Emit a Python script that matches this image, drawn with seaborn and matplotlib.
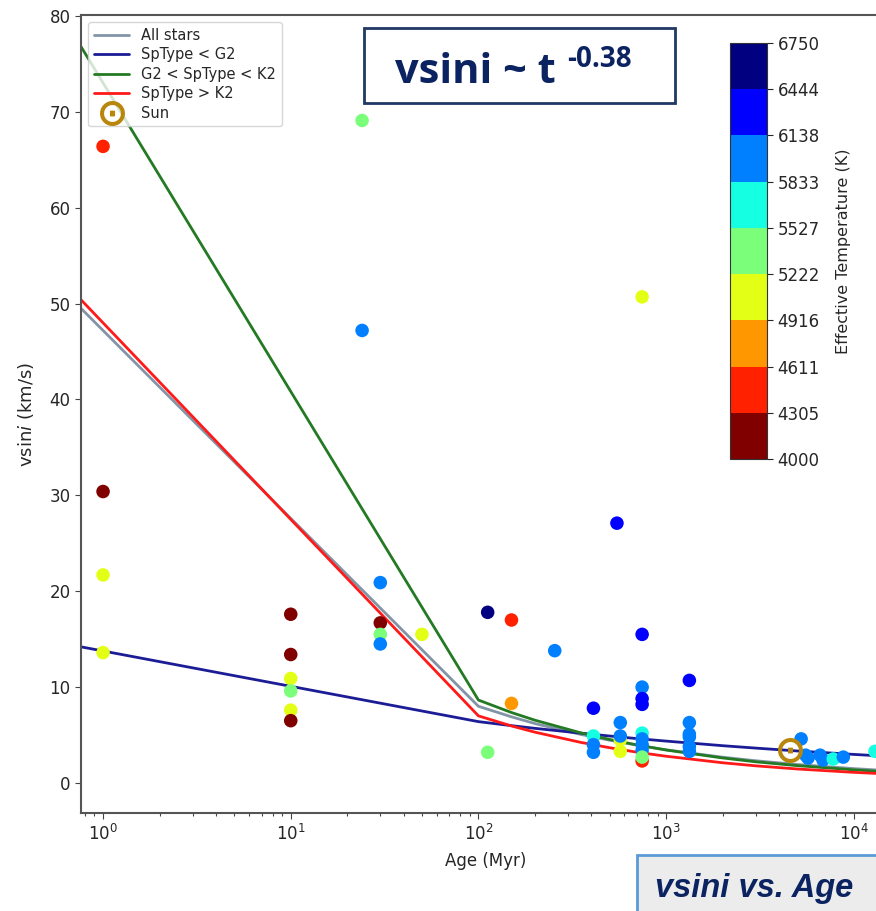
import numpy as np
import pandas as pd
import matplotlib
matplotlib.use("Agg")
import matplotlib.pyplot as plt
from matplotlib.colors import ListedColormap, Normalize
from matplotlib.patches import Rectangle
from matplotlib.ticker import LogLocator, NullFormatter
import seaborn as sns

# ---------------- data ----------------
star_age = [1, 1, 1, 1,
            10, 10, 10, 10, 10, 10,
            24, 24,
            30, 30, 30, 30,
            50,
            112, 112,
            150, 150,
            255,
            410, 410, 410, 410,
            547,
            570, 570, 570, 570,
            745, 745, 745, 745, 745, 745, 745, 745, 745, 745, 745,
            1330, 1330, 1330, 1330, 1330, 1330,
            5240, 5540, 5700, 6610, 6850, 7770, 8790, 12970]
star_vsini = [66.4, 30.4, 21.7, 13.6,
              17.6, 13.4, 10.9, 9.6, 7.6, 6.5,
              69.1, 47.2,
              20.9, 16.7, 15.5, 14.5,
              15.5,
              17.8, 3.2,
              17.0, 8.3,
              13.8,
              7.8, 4.9, 4.0, 3.2,
              27.1,
              4.5, 3.3, 4.9, 6.3,
              50.7, 15.5, 10.0, 8.8, 8.2, 5.2, 4.6, 4.0, 3.4, 2.3, 2.7,
              10.7, 6.3, 5.1, 4.8, 3.8, 3.3,
              4.6, 2.9, 2.6, 2.9, 2.4, 2.5, 2.7, 3.3]
star_teff = [4450, 4150, 5070, 5070,
             4150, 4150, 5070, 5370, 5070, 4150,
             5370, 5990,
             5990, 4150, 5370, 5990,
             5070,
             6600, 5370,
             4450, 4760,
             5990,
             6290, 5680, 5990, 5990,
             6290,
             5070, 5070, 5990, 5990,
             5070, 6290, 5990, 6290, 6290, 5680, 5990, 5990, 5990, 4450, 5370,
             6290, 5990, 5990, 5990, 5990, 5990,
             5990, 5990, 5990, 5990, 5990, 5680, 5990, 5680]

sun_age = [4570]
sun_vsini = [3.4]

fit_age = [0.763, 100, 150, 200, 350, 500, 700, 1000, 2000, 3000, 5000, 10000, 16000]
fit_all = [49.5, 8.0, 6.9, 6.2, 5.07, 4.46, 3.94, 3.46, 2.69, 2.32, 1.93, 1.50, 1.26]
fit_early = [14.2, 6.4, 5.98, 5.70, 5.20, 4.90, 4.63, 4.37, 3.89, 3.64, 3.34, 2.98, 2.76]
fit_mid = [76.8, 8.65, 7.35, 6.55, 5.24, 4.54, 3.97, 3.44, 2.61, 2.21, 1.81, 1.37, 1.13]
fit_late = [50.4, 7.0, 5.95, 5.30, 4.24, 3.68, 3.21, 2.79, 2.11, 1.79, 1.46, 1.11, 0.92]

line_labels = ["All stars", "SpType < G2", "G2 < SpType < K2", "SpType > K2"]
cbar_ticks = [4000, 4305, 4611, 4916, 5222, 5527, 5833, 6138, 6444, 6750]

# ---------------- style ----------------
sns.set_style("ticks")
plt.rcParams["font.family"] = ["DejaVu Sans"]

W, H = 876, 911
fig = plt.figure(figsize=(W / 100, H / 100), dpi=100)

def fx(px):
    return px / W

def fy(py):
    return 1 - py / H

ax = fig.add_axes([fx(81), fy(813), fx(890) - fx(81), fy(15) - fy(813)])
ax.set_xscale("log")

line_colors = ["#8294a6", "#1c1c96", "#237a23", "#ff1a1a"]
for yv, lab, col in zip([fit_all, fit_early, fit_mid, fit_late], line_labels, line_colors):
    sns.lineplot(x=fit_age, y=yv, ax=ax, color=col, lw=2, label=lab,
                 estimator=None, sort=False)

cmap = ListedColormap(plt.get_cmap("jet_r", 9)(np.arange(9)))
df = pd.DataFrame({"age": star_age, "vsini": star_vsini, "teff": star_teff})
sns.scatterplot(data=df, x="age", y="vsini", hue="teff", palette=cmap,
                hue_norm=(4000, 6750), s=95, linewidth=0, legend=False, ax=ax,
                zorder=3)

ax.plot(sun_age, sun_vsini, linestyle="none", marker=r"$\odot$", markersize=17,
        color="#b8860b", label="Sun", zorder=4)

ax.set_xlim(0.763, 10 ** ((890 - 103) / 187.7))
ax.set_ylim(-3.13, 80.1)
ax.set_yticks([0, 10, 20, 30, 40, 50, 60, 70, 80])
ax.xaxis.set_major_locator(LogLocator(base=10, numticks=10))
ax.xaxis.set_minor_locator(LogLocator(base=10, subs=np.arange(2, 10), numticks=20))
ax.xaxis.set_minor_formatter(NullFormatter())
ax.tick_params(labelsize=12, length=4, color="#444444")
ax.tick_params(axis="x", which="minor", bottom=True, length=2.5, width=0.8,
               color="#444444")
for sp in ax.spines.values():
    sp.set_color("#555555")
    sp.set_linewidth(1.5)
sns.despine(ax=ax, top=False, right=False)

ax.set_xlabel("Age (Myr)", fontsize=12, labelpad=6)
ax.set_ylabel(r"vsin$i$ (km/s)", fontsize=13, labelpad=10)

handles, labels = ax.get_legend_handles_labels()
leg = ax.legend(handles, labels, loc="upper left", fontsize=10.5, labelspacing=0.3,
                handlelength=2.4, borderaxespad=0.5, frameon=True, framealpha=0.8,
                edgecolor="#cccccc", fancybox=True)

# colorbar
cax = fig.add_axes([fx(730), fy(459), fx(767) - fx(730), fy(43) - fy(459)])
sm = plt.cm.ScalarMappable(norm=Normalize(4000, 6750), cmap=cmap)
cb = fig.colorbar(sm, cax=cax, ticks=np.linspace(4000, 6750, 10))
cb.ax.set_yticklabels([str(t) for t in cbar_ticks])
cb.ax.tick_params(labelsize=12, length=4)
cb.outline.set_edgecolor("#333333")
cb.set_label("Effective Temperature (K)", fontsize=11.5, labelpad=12)

# title box
navy = "#0b2461"
fig.patches.append(Rectangle((fx(364), fy(103)), fx(675) - fx(364), fy(28) - fy(103),
                             transform=fig.transFigure, facecolor="white",
                             edgecolor="#1f3864", lw=2, zorder=5))
fig.text(fx(395), fy(83), "vsini ~ t", fontsize=30, fontweight="bold",
         family="Open Sans", color=navy, ha="left", va="baseline", zorder=6)
fig.text(fx(567), fy(67), "-0.38", fontsize=20, fontweight="bold",
         family="Open Sans", color=navy, ha="left", va="baseline", zorder=6)

# bottom right box
fig.patches.append(Rectangle((fx(637), -0.02), fx(900) - fx(637), fy(855) + 0.02,
                             transform=fig.transFigure, facecolor="#ececec",
                             edgecolor="#5b9bd5", lw=2, zorder=5))
fig.text(fx(655), fy(897), "vsini vs. Age", fontsize=23.5, fontweight="bold",
         style="italic", family="Liberation Sans", color=navy, ha="left",
         va="baseline", zorder=6)

fig.savefig("out.png", dpi=100)
